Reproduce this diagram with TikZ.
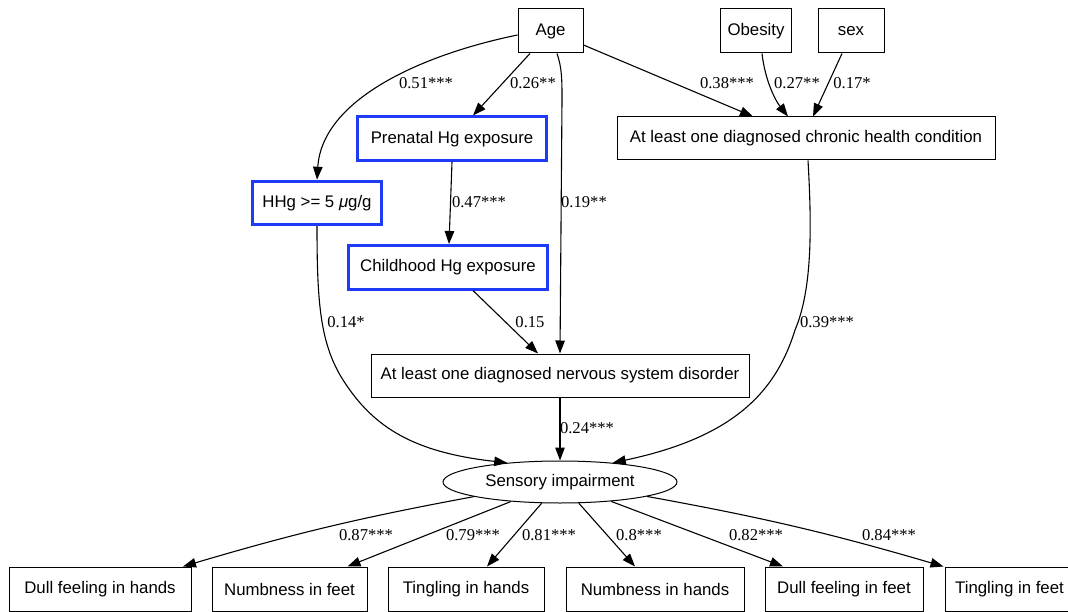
\documentclass[tikz,border=0pt]{standalone}
\usepackage{fontspec}
\setmainfont{Liberation Serif}
\newfontfamily\nodefont{Liberation Sans}
\usetikzlibrary{arrows.meta,shapes.geometric}
\definecolor{hgblue}{RGB}{30,60,245}
\tikzset{
  box/.style={draw=black, line width=1pt, rectangle, inner sep=0pt,
    minimum height=44pt, font=\nodefont\fontsize{16.8}{20}\selectfont},
  hgbox/.style={box, draw=hgblue, line width=3pt, minimum height=43.5pt},
  latent/.style={draw=black, ellipse, line width=1pt, inner sep=0pt,
    minimum width=234pt, minimum height=42pt, font=\nodefont\fontsize{16.8}{20}\selectfont},
  edge/.style={draw=black, line width=1.1pt, -{Triangle[length=13pt,width=9.5pt]}},
  coef/.style={inner sep=0pt, font=\fontsize{16.6}{20}\selectfont},
}
\begin{document}
\begin{tikzpicture}[x=1pt,y=-1pt]
\useasboundingbox (0,0) rectangle (1068,612);
\clip (0,0) rectangle (1068,612);

% exogenous variables
\node[box, minimum width=65pt] (age) at (550.5,31) {Age};
\node[box, minimum width=71pt] (obes) at (756,31) {Obesity};
\node[box, minimum width=66pt] (sex) at (851,31) {sex};

% mercury exposure measures
\node[hgbox, minimum width=189pt] (pre) at (452,138.7) {Prenatal Hg exposure};
\node[hgbox, minimum width=129pt] (hhg) at (317,203) {HHg >= 5 \textit{μ}g/g};
\node[hgbox, minimum width=199.5pt] (child) at (448,267.3) {Childhood Hg exposure};

% health conditions
\node[box, minimum width=378pt, minimum height=43pt] (chron) at (806,138.5) {At least one diagnosed chronic health condition};
\node[box, minimum width=378pt, minimum height=43pt] (nerv) at (560,375.5) {At least one diagnosed nervous system disorder};

% latent outcome
\node[latent] (sens) at (560,482) {Sensory impairment};

% indicators
\node[box, minimum width=182pt] (dh) at (100,589) {Dull feeling in hands};
\node[box, minimum width=155pt] (nf) at (289.5,589) {Numbness in feet};
\node[box, minimum width=156pt] (th) at (466,589) {Tingling in hands};
\node[box, minimum width=178pt] (nh) at (655,589) {Numbness in hands};
\node[box, minimum width=158pt] (df) at (844,589) {Dull feeling in feet};
\node[box, minimum width=129pt] (tf) at (1009.5,589) {Tingling in feet};

% paths from Age
\draw[edge] ([yshift=-4pt]age.west) .. controls (420,55) and (322,100) .. (hhg.north);
\draw[edge] ([xshift=-20.5pt]age.south) -- ([xshift=21pt]pre.north);
\draw[edge] ([xshift=6.5pt]age.south) .. controls (562,68) and (562,80) .. (562,100) -- (nerv.north);
\draw[edge] ([yshift=-14pt]age.east) -- ([xshift=-53pt]chron.north);

% paths into the chronic condition
\draw[edge] ([xshift=6pt]obes.south) .. controls (765,80) and (775,100) .. ([xshift=-18pt]chron.north);
\draw[edge] ([xshift=-9pt]sex.south) -- ([xshift=7pt]chron.north);

% exposure paths
\draw[edge] ([xshift=0pt]pre.south) -- ([xshift=1pt]child.north);
\draw[edge] ([xshift=25pt]child.south) -- ([xshift=-22pt]nerv.north);
\draw[edge] (hhg.south) .. controls (317,300) and (320,340) .. (340,375)
  .. controls (370,425) and (410,452) .. (sens.160);

% paths into sensory impairment
\draw[edge] ([xshift=2pt]chron.south) .. controls (812,230) and (812,290) .. (795,330)
  .. controls (775,395) and (730,438) .. (sens.20);
\draw[edge] (nerv.south) -- (sens.north);

% loadings
\draw[edge] (sens) to[bend right=3] ([xshift=83pt]dh.north);
\draw[edge] (sens) -- ([xshift=58pt]nf.north);
\draw[edge] (sens) -- ([xshift=21pt]th.north);
\draw[edge] (sens) -- ([xshift=-20pt]nh.north);
\draw[edge] (sens) -- ([xshift=-61pt]df.north);
\draw[edge] (sens) to[bend left=3] ([xshift=-66pt]tf.north);

% coefficients
\node[coef] (c051) at (426,83) {0.51***};
\node[coef] (c026) at (533,83) {0.26**};
\node[coef] (c038) at (727,83) {0.38***};
\node[coef] (c027) at (797,83) {0.27**};
\node[coef] (c017) at (852,83) {0.17*};
\node[coef] (c047) at (479,202) {0.47***};
\node[coef] (c019) at (584,202) {0.19**};
\node[coef] (c014) at (346,322) {0.14*};
\node[coef] (c015) at (530,322) {0.15};
\node[coef] (c039) at (827,322) {0.39***};
\node[coef] (c024) at (587,428) {0.24***};
\node[coef] (c087) at (366,535) {0.87***};
\node[coef] (c079) at (473,535) {0.79***};
\node[coef] (c081) at (549,535) {0.81***};
\node[coef] (c080) at (639,535) {0.8***};
\node[coef] (c082) at (756,535) {0.82***};
\node[coef] (c084) at (889,535) {0.84***};
\end{tikzpicture}
\end{document}
